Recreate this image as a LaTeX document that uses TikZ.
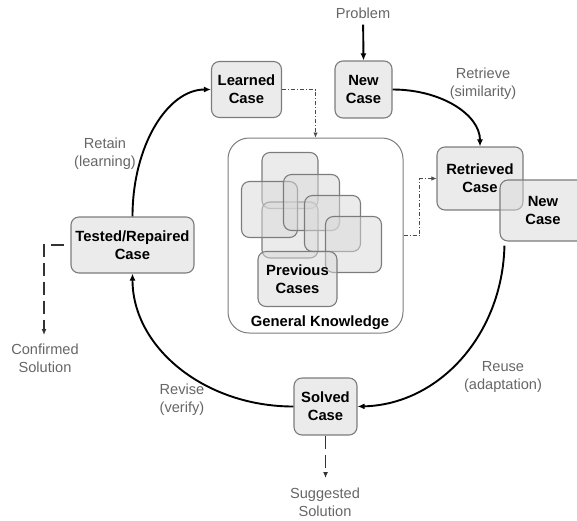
\documentclass[tikz,border=0pt]{standalone}
\usepackage{fontspec}
\setmainfont{Liberation Sans}
\usetikzlibrary{arrows.meta}

\definecolor{boxfill}{HTML}{D8D8D8}
\definecolor{boxline}{HTML}{7C7C7C}
\definecolor{labelgray}{HTML}{666666}
\definecolor{linkgray}{HTML}{4A4A4A}
\definecolor{outgray}{HTML}{333333}

\begin{document}
\begin{tikzpicture}[x=1pt,y=1pt,
  casebox/.style={draw=boxline, line width=1.1pt, rounded corners=8pt,
    fill=boxfill, fill opacity=0.5, text opacity=1, align=center,
    inner sep=0pt, font=\bfseries\fontsize{14.8}{17.8}\selectfont},
  memo/.style={casebox, minimum width=56pt, minimum height=56pt},
  steplabel/.style={align=center, text=labelgray, inner sep=1pt,
    font=\fontsize{14.6}{17.8}\selectfont},
  cycleflow/.style={draw=black, line width=1.9pt,
    -{Latex[length=7pt,width=6pt]}},
  linkflow/.style={draw=linkgray, line width=0.8pt,
    dash pattern=on 4pt off 2pt on 1pt off 2pt,
    -{Latex[length=5pt,width=4.5pt]}},
  outflow/.style={draw=outgray, line width=1.6pt,
    dash pattern=on 13pt off 6pt, dash phase=13pt,
    -{Latex[length=6pt,width=5pt]}}
]
\useasboundingbox (0,0) rectangle (577,-520);
\clip (0,0) rectangle (577,-520);

% general knowledge container and its stored cases
\node[draw=boxline, line width=1pt, rounded corners=21pt,
  minimum width=175pt, minimum height=195pt, inner sep=0pt]
  (gk) at (315.5,-235.5) {};
\node[memo] (m1) at (290,-180.5) {};
\node[memo] (m6) at (290,-230) {};
\node[memo] (m2) at (269.5,-209.5) {};
\node[memo] (m3) at (311.5,-202.5) {};
\node[memo] (m4) at (332.5,-223.5) {};
\node[memo] (m5) at (353.5,-244.5) {};
\node[casebox, minimum width=79pt, minimum height=55pt]
  (prev) at (297.5,-279) {Previous\\Cases};
\node[font=\bfseries\fontsize{14.8}{17.8}\selectfont, inner sep=0pt]
  (gklabel) at (320,-323) {General Knowledge};

% cases around the cycle
\node[casebox, minimum width=70pt, minimum height=56pt]
  (learned) at (246.5,-89.5) {Learned\\Case};
\node[casebox, minimum width=57pt, minimum height=57pt]
  (newc) at (363.5,-89.5) {New\\Case};
\node[casebox, minimum width=86pt, minimum height=63pt]
  (retr) at (480,-178.5) {Retrieved\\Case};
\node[casebox, minimum width=86pt, minimum height=61pt]
  (new2) at (543,-210.5) {New\\Case};
\node[casebox, minimum width=123pt, minimum height=56pt]
  (tested) at (132.5,-245) {Tested/Repaired\\Case};
\node[casebox, minimum width=63pt, minimum height=57pt]
  (solved) at (325.5,-406.5) {Solved\\Case};

% step labels and outputs
\node[steplabel] (problem) at (363,-13) {Problem};
\node[steplabel] (lretrieve) at (483,-84) {Retrieve\\(similarity)};
\node[steplabel] (lreuse) at (503,-377) {Reuse\\(adaptation)};
\node[steplabel] (lrevise) at (182,-400) {Revise\\(verify)};
\node[steplabel] (lretain) at (105,-154) {Retain\\(learning)};
\node[steplabel] (confirmed) at (45,-358) {Confirmed\\Solution};
\node[steplabel] (suggested) at (325,-502.5) {Suggested\\Solution};

\coordinate (reusestart) at ([shift={(5,-4)}]new2.south west);
\coordinate (confirmtip) at (44,-335);
\coordinate (suggesttip) at (325.5,-478);

% the four-step cycle
\draw[cycleflow, shorten <=5pt] (problem) -- (newc.north);
\draw[cycleflow] (newc.east) .. controls +(48.6,0) and +(0,31.8) .. (retr.north);
\draw[cycleflow] (reusestart) .. controls +(-2,-89) and +(81.7,2) .. (solved.east);
\draw[cycleflow] (solved.west) .. controls +(-89.2,0) and +(0,-73.7) .. (tested.south);
\draw[cycleflow] (tested.north) .. controls +(0,70.4) and +(-43.6,0) .. (learned.west);

% links through the general knowledge
\draw[linkflow] (learned.east) -| (gk.north);
\draw[linkflow] (gk.east) -- ++(16,0) |- (retr.west);

% solutions leaving the cycle
\draw[outflow] (tested.west) -| (confirmtip);
\draw[outflow, dash phase=0pt] (solved.south) -- (suggesttip);
\end{tikzpicture}
\end{document}
